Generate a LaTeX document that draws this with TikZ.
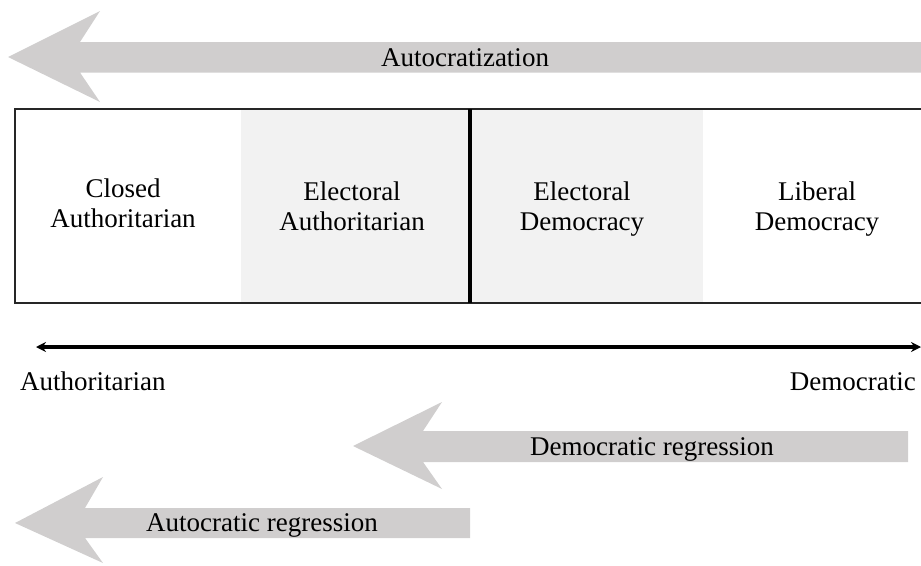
\documentclass[tikz,border=0pt]{standalone}
\usepackage{fontspec}
\setmainfont{Liberation Serif}
\usetikzlibrary{arrows.meta}
\definecolor{arrowgray}{HTML}{D0CECE}
\definecolor{cellgray}{HTML}{F2F2F2}
\tikzset{
  bigarrow/.style={fill=arrowgray, draw=none},
  lbl/.style={font=\fontsize{27}{30}\selectfont, inner sep=0pt, anchor=base, align=center},
  cellbox/.style={fill=cellgray, draw=none},
}
\begin{document}
\begin{tikzpicture}[x=1pt,y=-1pt]
\useasboundingbox (0,0) rectangle (921,565);
% top arrow
\fill[bigarrow] (8,57) -- (100,11) -- (80,42) -- (921,42) -- (921,72.5) -- (80,72.5) -- (100,102) -- cycle;
\node[lbl] (autoc) at (465,66) {Autocratization};
% cells
\fill[cellbox] (241,109) rectangle (470,303);
\fill[cellbox] (470,109) rectangle (703,303);
\draw[line width=1.5pt, draw=black!85] (15,109) rectangle (922,303);
\draw[line width=4.5pt] (470,109) -- (470,303);
\node[lbl] (closed) at (123,227) {Closed\\Authoritarian};
\node[lbl] (elauth) at (352,230) {Electoral\\Authoritarian};
\node[lbl] (eldem) at (582,230) {Electoral\\Democracy};
\node[lbl] (libdem) at (817,230) {Liberal\\Democracy};
% scale
\coordinate (sl) at (36,347);
\coordinate (sr) at (921,347);
\draw[line width=3.5pt, {Stealth[length=10pt,width=10pt]}-{Stealth[length=10pt,width=10pt]}] (sl) -- (sr);
\node[lbl, anchor=base west] (authl) at (20,390) {Authoritarian};
\node[lbl, anchor=base east] (deml) at (916,390) {Democratic};
% democratic regression
\fill[bigarrow] (353,446) -- (442,402) -- (423,431) -- (908,431) -- (908,462) -- (423,462) -- (442,489) -- cycle;
\node[lbl] (demreg) at (652,455) {Democratic regression};
% autocratic regression
\fill[bigarrow] (15,523) -- (103,477) -- (85,508) -- (470,508) -- (470,538) -- (85,538) -- (103,563) -- cycle;
\node[lbl] (autreg) at (262,531) {Autocratic regression};
\end{tikzpicture}
\end{document}
